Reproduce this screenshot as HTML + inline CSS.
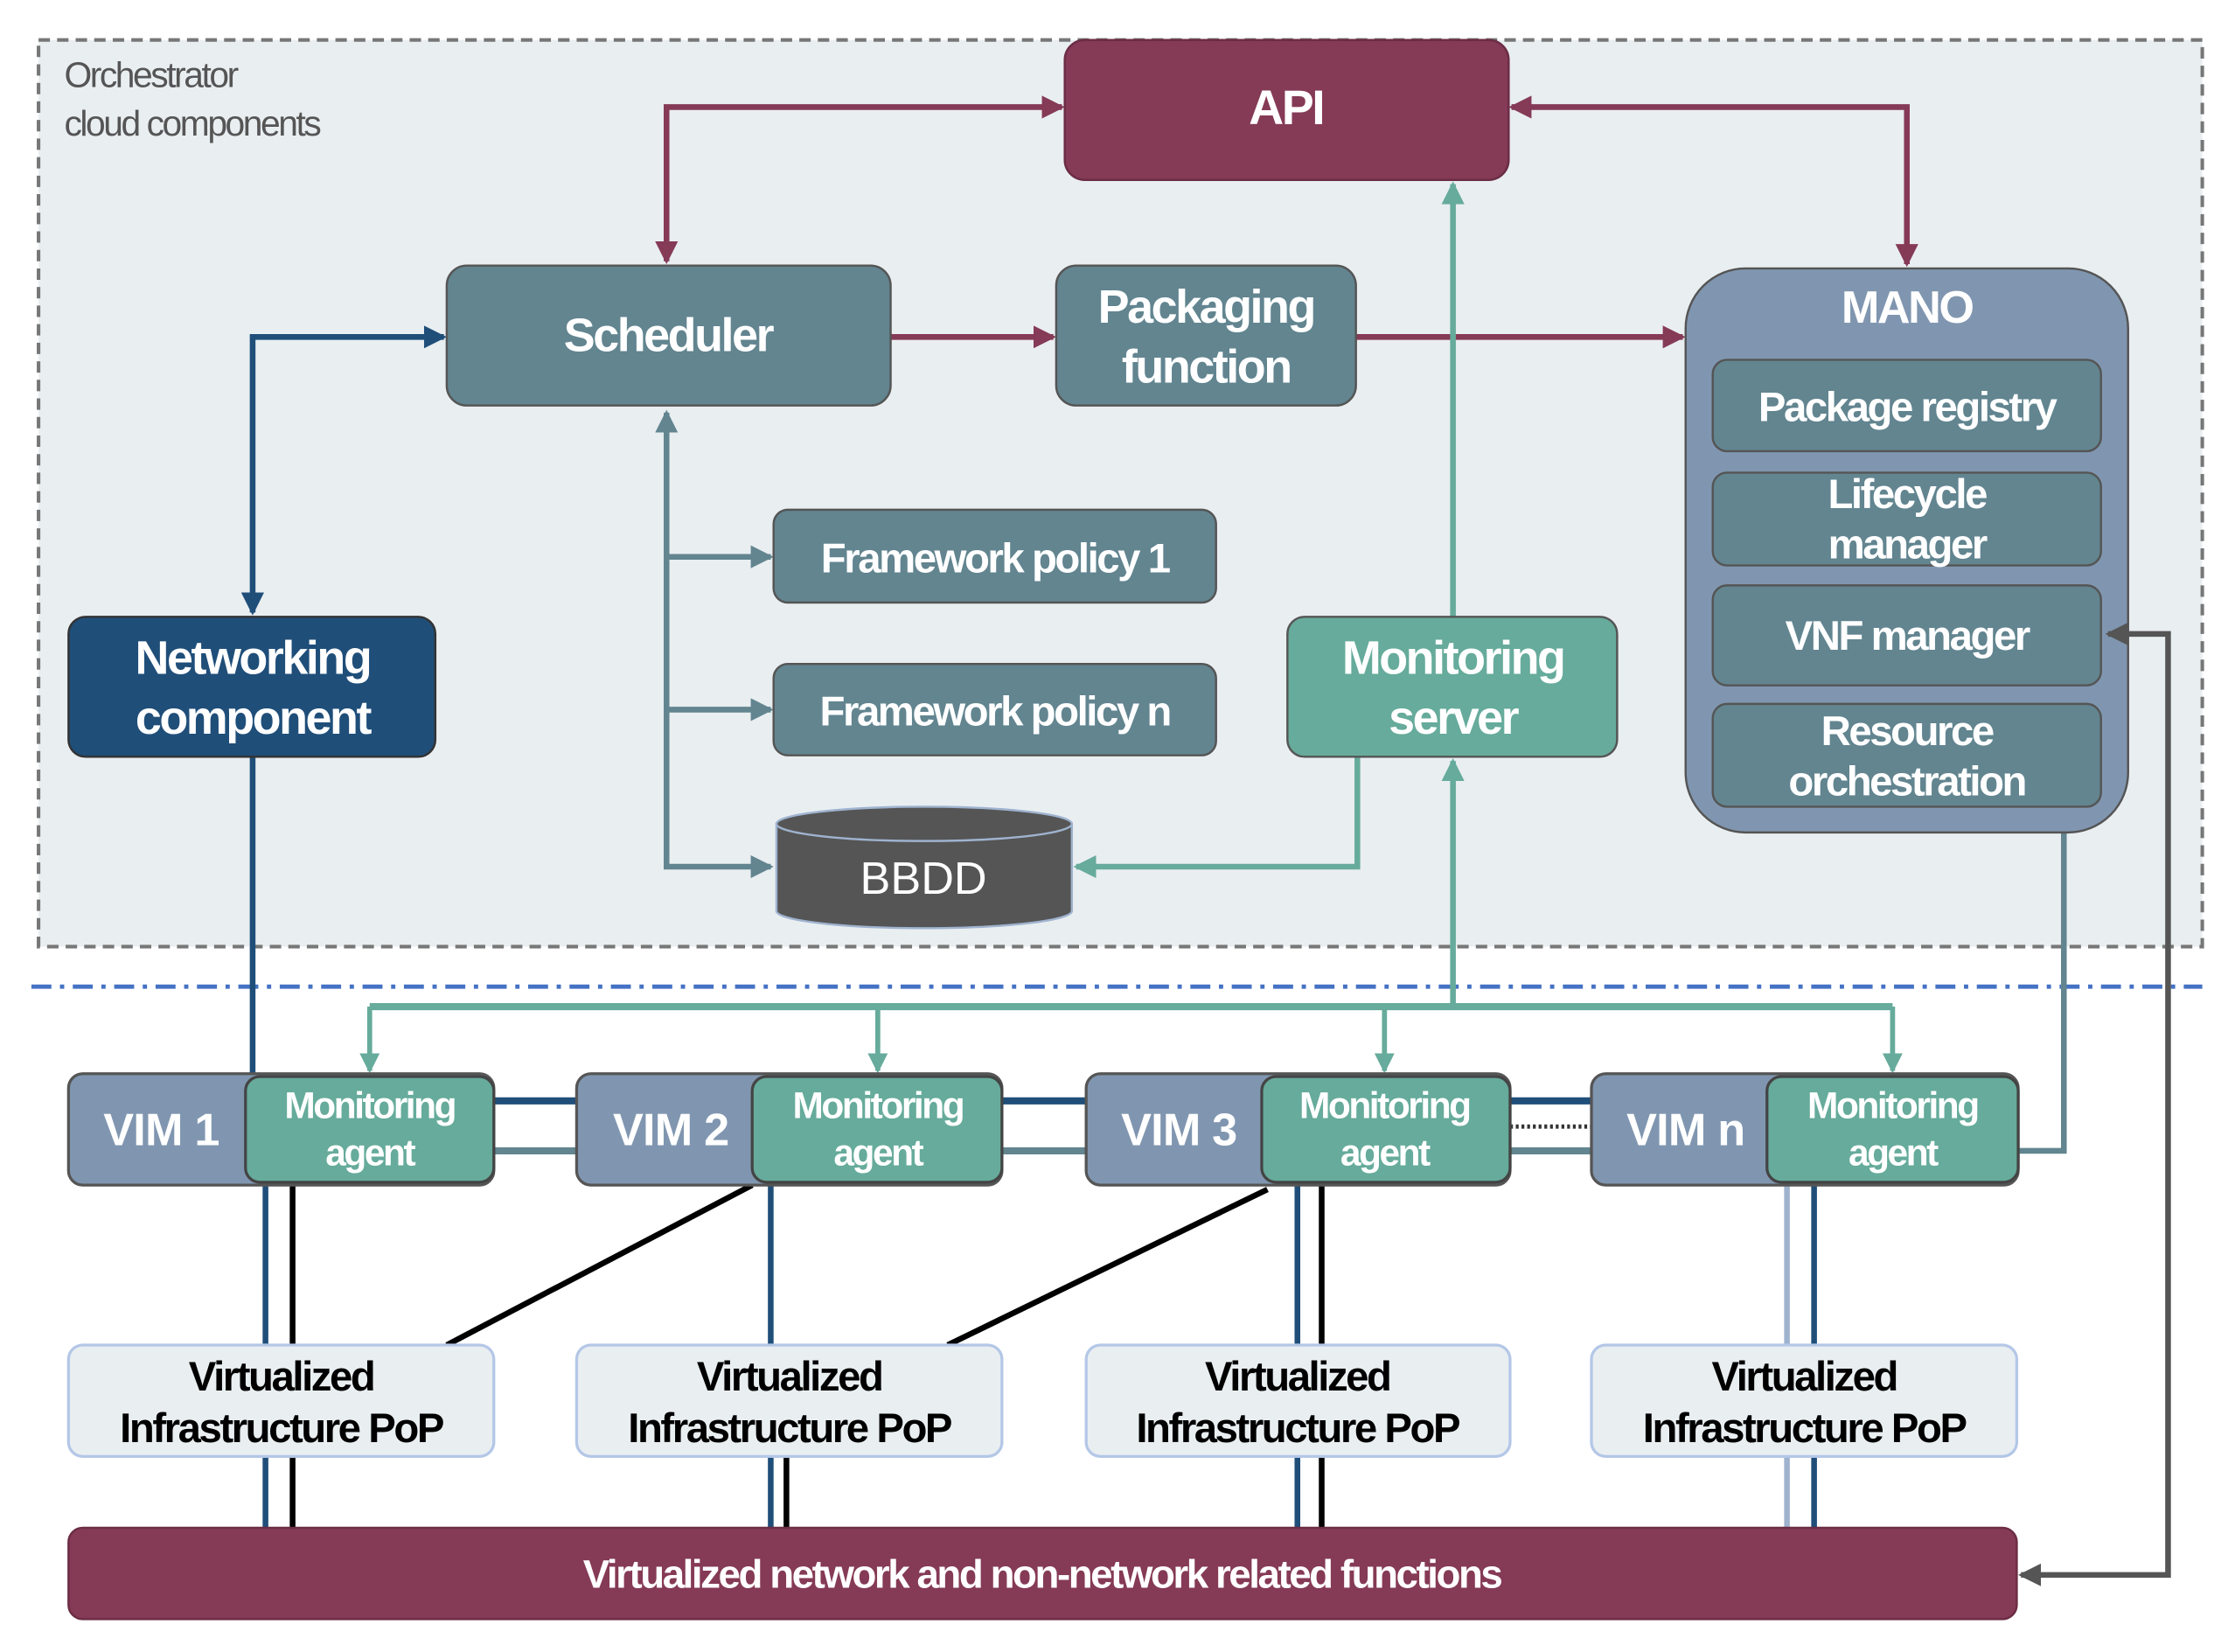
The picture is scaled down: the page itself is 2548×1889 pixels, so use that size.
<!DOCTYPE html>
<html><head><meta charset="utf-8"><style>
html,body{margin:0;padding:0;background:#fff;width:2548px;height:1889px;overflow:hidden}
svg{display:block}
text{font-family:"Liberation Sans",sans-serif;}
</style></head><body>
<svg width="2548" height="1889" viewBox="0 0 1561 1157" preserveAspectRatio="none" xmlns="http://www.w3.org/2000/svg">
<defs>
<marker id="am" markerWidth="4" markerHeight="4" refX="3.5" refY="2" orient="auto-start-reverse" markerUnits="strokeWidth"><path d="M0,0 L4,2 L0,4z" fill="#853a55"/></marker>
<marker id="ab" markerWidth="4" markerHeight="4" refX="3.5" refY="2" orient="auto-start-reverse" markerUnits="strokeWidth"><path d="M0,0 L4,2 L0,4z" fill="#1f4e79"/></marker>
<marker id="as" markerWidth="4" markerHeight="4" refX="3.5" refY="2" orient="auto-start-reverse" markerUnits="strokeWidth"><path d="M0,0 L4,2 L0,4z" fill="#628590"/></marker>
<marker id="at" markerWidth="4" markerHeight="4" refX="3.5" refY="2" orient="auto-start-reverse" markerUnits="strokeWidth"><path d="M0,0 L4,2 L0,4z" fill="#66ab9b"/></marker>
<marker id="ag" markerWidth="4" markerHeight="4" refX="3.5" refY="2" orient="auto-start-reverse" markerUnits="strokeWidth"><path d="M0,0 L4,2 L0,4z" fill="#555"/></marker>
</defs>
<rect x="0" y="0" width="1561" height="1157" fill="#fff"/>
<rect x="27" y="28" width="1516" height="635" fill="#e9eef1" stroke="#777" stroke-width="2.5" stroke-dasharray="8,5"/>
<text x="45" y="61" font-size="25" fill="#555" letter-spacing="-1.5">Orchestrator</text>
<text x="45" y="95" font-size="25" fill="#555" letter-spacing="-1.5">cloud components</text>
<line x1="22" y1="691" x2="1543" y2="691" stroke="#4472c4" stroke-width="3" stroke-dasharray="14,6,3,6"/>

<!-- connectors -->
<polyline points="467,183 467,75 744,75" fill="none" stroke="#853a55" stroke-width="4" marker-start="url(#am)" marker-end="url(#am)"/>
<polyline points="1059,75 1336,75 1336,185" fill="none" stroke="#853a55" stroke-width="4" marker-start="url(#am)" marker-end="url(#am)"/>
<line x1="624" y1="236" x2="738" y2="236" stroke="#853a55" stroke-width="4" marker-end="url(#am)"/>
<line x1="950" y1="236" x2="1179" y2="236" stroke="#853a55" stroke-width="4" marker-end="url(#am)"/>
<polyline points="177,429 177,236 311,236" fill="none" stroke="#1f4e79" stroke-width="4" marker-start="url(#ab)" marker-end="url(#ab)"/>
<line x1="177" y1="530" x2="177" y2="752" stroke="#1f4e79" stroke-width="4"/>
<polyline points="467,289 467,607 540,607" fill="none" stroke="#628590" stroke-width="4" marker-start="url(#as)" marker-end="url(#as)"/>
<line x1="467" y1="390" x2="540" y2="390" stroke="#628590" stroke-width="4" marker-end="url(#as)"/>
<line x1="467" y1="497" x2="540" y2="497" stroke="#628590" stroke-width="4" marker-end="url(#as)"/>
<line x1="1018" y1="432" x2="1018" y2="129" stroke="#66ab9b" stroke-width="4" marker-end="url(#at)"/>
<polyline points="951,530 951,607 754,607" fill="none" stroke="#66ab9b" stroke-width="4" marker-end="url(#at)"/>
<line x1="1018" y1="705" x2="1018" y2="533" stroke="#66ab9b" stroke-width="4" marker-end="url(#at)"/>
<line x1="259" y1="705" x2="1326" y2="705" stroke="#66ab9b" stroke-width="5"/>
<line x1="259" y1="705" x2="259" y2="750" stroke="#66ab9b" stroke-width="3.5" marker-end="url(#at)"/>
<line x1="615" y1="705" x2="615" y2="750" stroke="#66ab9b" stroke-width="3.5" marker-end="url(#at)"/>
<line x1="970" y1="705" x2="970" y2="750" stroke="#66ab9b" stroke-width="3.5" marker-end="url(#at)"/>
<line x1="1326" y1="705" x2="1326" y2="750" stroke="#66ab9b" stroke-width="3.5" marker-end="url(#at)"/>
<polyline points="1446,565 1446,806 1414,806" fill="none" stroke="#628590" stroke-width="4"/>

<!-- links between VIMs -->
<g stroke-width="5">
<line x1="346" y1="771" x2="404" y2="771" stroke="#1f4e79"/>
<line x1="346" y1="806" x2="404" y2="806" stroke="#628590"/>
<line x1="702" y1="771" x2="761" y2="771" stroke="#1f4e79"/>
<line x1="702" y1="806" x2="761" y2="806" stroke="#628590"/>
<line x1="1058" y1="771" x2="1115" y2="771" stroke="#1f4e79"/>
<line x1="1058" y1="806" x2="1115" y2="806" stroke="#628590"/>
<line x1="1058" y1="789" x2="1115" y2="789" stroke="#333" stroke-width="3" stroke-dasharray="2,2"/>
</g>
<!-- verticals -->
<g stroke-width="4">
<line x1="186" y1="830" x2="186" y2="1070" stroke="#1f4e79"/>
<line x1="205" y1="830" x2="205" y2="1070" stroke="#000"/>
<line x1="540" y1="830" x2="540" y2="1070" stroke="#1f4e79"/>
<line x1="551" y1="1020" x2="551" y2="1070" stroke="#000"/>
<line x1="909" y1="830" x2="909" y2="1070" stroke="#1f4e79"/>
<line x1="926" y1="830" x2="926" y2="1070" stroke="#000"/>
<line x1="1252" y1="830" x2="1252" y2="1070" stroke="#9fb3cf"/>
<line x1="1271" y1="830" x2="1271" y2="1070" stroke="#1f4e79"/>
<line x1="527" y1="830" x2="313" y2="942" stroke="#000"/>
<line x1="888" y1="833" x2="664" y2="942" stroke="#000"/>
</g>

<!-- nodes -->
<g font-weight="bold" fill="#fff" text-anchor="middle" letter-spacing="-1.5">
<rect x="746" y="28" width="311" height="98" rx="14" fill="#853a55" stroke="#6b2d44" stroke-width="1.5"/>
<text x="901" y="87" font-size="34">API</text>
<rect x="313" y="186" width="311" height="98" rx="14" fill="#628590" stroke="#555" stroke-width="1.5"/>
<text x="468" y="246" font-size="33">Scheduler</text>
<rect x="740" y="186" width="210" height="98" rx="14" fill="#628590" stroke="#555" stroke-width="1.5"/>
<text x="845" y="226" font-size="33">Packaging</text>
<text x="845" y="268" font-size="33">function</text>
<rect x="1181" y="188" width="310" height="395" rx="42" fill="#8096b0" stroke="#555" stroke-width="1.5"/>
<text x="1336" y="226" font-size="32">MANO</text>
<rect x="1200" y="252" width="272" height="64" rx="10" fill="#628590" stroke="#555" stroke-width="1.5"/>
<text x="1336" y="295" font-size="29">Package registry</text>
<rect x="1200" y="331" width="272" height="65" rx="10" fill="#628590" stroke="#555" stroke-width="1.5"/>
<text x="1336" y="356" font-size="29">Lifecycle</text>
<text x="1336" y="391" font-size="29">manager</text>
<rect x="1200" y="410" width="272" height="70" rx="10" fill="#628590" stroke="#555" stroke-width="1.5"/>
<text x="1336" y="455" font-size="29">VNF manager</text>
<rect x="1200" y="493" width="272" height="72" rx="10" fill="#628590" stroke="#555" stroke-width="1.5"/>
<text x="1336" y="522" font-size="29">Resource</text>
<text x="1336" y="557" font-size="29">orchestration</text>
<rect x="542" y="357" width="310" height="65" rx="10" fill="#628590" stroke="#555" stroke-width="1.5"/>
<text x="697" y="401" font-size="29">Framework policy 1</text>
<rect x="542" y="465" width="310" height="64" rx="10" fill="#628590" stroke="#555" stroke-width="1.5"/>
<text x="697" y="508" font-size="29">Framework policy n</text>
<rect x="902" y="432" width="231" height="98" rx="12" fill="#66ab9b" stroke="#555" stroke-width="1.5"/>
<text x="1018" y="472" font-size="33">Monitoring</text>
<text x="1018" y="514" font-size="33">server</text>
<rect x="48" y="432" width="257" height="98" rx="12" fill="#1f4e79" stroke="#333" stroke-width="1.5"/>
<text x="177" y="472" font-size="33">Networking</text>
<text x="177" y="514" font-size="33">component</text>
<!-- BBDD -->
<path d="M544,577 L544,638 A103,12 0 0 0 751,638 L751,577 Z" fill="#555" stroke="#9fb3cf" stroke-width="1.5"/>
<ellipse cx="647.5" cy="577" rx="103.5" ry="12" fill="#555" stroke="#9fb3cf" stroke-width="1.5"/>
<text x="647" y="626" font-size="32" font-weight="normal" letter-spacing="0">BBDD</text>
</g>

<!-- VIMs -->
<g fill="#fff" text-anchor="middle" font-weight="bold" letter-spacing="-1.5">
<rect x="48" y="752" width="298" height="78" rx="10" fill="#8096b0" stroke="#555" stroke-width="2"/>
<rect x="172" y="754" width="174" height="74" rx="10" fill="#66ab9b" stroke="#444" stroke-width="2"/>
<text x="113" y="802" font-size="32" letter-spacing="-0.5">VIM 1</text>
<text x="259" y="783" font-size="26">Monitoring</text>
<text x="259" y="816" font-size="26">agent</text>
<rect x="404" y="752" width="298" height="78" rx="10" fill="#8096b0" stroke="#555" stroke-width="2"/>
<rect x="527" y="754" width="175" height="74" rx="10" fill="#66ab9b" stroke="#444" stroke-width="2"/>
<text x="470" y="802" font-size="32" letter-spacing="-0.5">VIM 2</text>
<text x="615" y="783" font-size="26">Monitoring</text>
<text x="615" y="816" font-size="26">agent</text>
<rect x="761" y="752" width="297" height="78" rx="10" fill="#8096b0" stroke="#555" stroke-width="2"/>
<rect x="884" y="754" width="174" height="74" rx="10" fill="#66ab9b" stroke="#444" stroke-width="2"/>
<text x="826" y="802" font-size="32" letter-spacing="-0.5">VIM 3</text>
<text x="970" y="783" font-size="26">Monitoring</text>
<text x="970" y="816" font-size="26">agent</text>
<rect x="1115" y="752" width="299" height="78" rx="10" fill="#8096b0" stroke="#555" stroke-width="2"/>
<rect x="1238" y="754" width="176" height="74" rx="10" fill="#66ab9b" stroke="#444" stroke-width="2"/>
<text x="1181" y="802" font-size="32" letter-spacing="-0.5">VIM n</text>
<text x="1326" y="783" font-size="26">Monitoring</text>
<text x="1326" y="816" font-size="26">agent</text>
</g>

<!-- PoPs -->
<g fill="#000" text-anchor="middle" font-size="29" font-weight="bold" letter-spacing="-1.5">
<rect x="48" y="942" width="298" height="78" rx="10" fill="#e9eef1" stroke="#b4c7e7" stroke-width="2"/>
<text x="197" y="974">Virtualized</text><text x="197" y="1010">Infrastructure PoP</text>
<rect x="404" y="942" width="298" height="78" rx="10" fill="#e9eef1" stroke="#b4c7e7" stroke-width="2"/>
<text x="553" y="974">Virtualized</text><text x="553" y="1010">Infrastructure PoP</text>
<rect x="761" y="942" width="297" height="78" rx="10" fill="#e9eef1" stroke="#b4c7e7" stroke-width="2"/>
<text x="909" y="974">Virtualized</text><text x="909" y="1010">Infrastructure PoP</text>
<rect x="1115" y="942" width="298" height="78" rx="10" fill="#e9eef1" stroke="#b4c7e7" stroke-width="2"/>
<text x="1264" y="974">Virtualized</text><text x="1264" y="1010">Infrastructure PoP</text>
</g>

<rect x="48" y="1070" width="1365" height="64" rx="10" fill="#853a55" stroke="#6b2d44" stroke-width="1.5"/>
<text x="730" y="1112" font-size="28" fill="#fff" font-weight="bold" text-anchor="middle" letter-spacing="-1.5">Virtualized network and non-network related functions</text>

<polyline points="1416,1103 1519,1103 1519,444 1477,444" fill="none" stroke="#555" stroke-width="4" marker-start="url(#ag)" marker-end="url(#ag)"/>
</svg>
</body></html>
